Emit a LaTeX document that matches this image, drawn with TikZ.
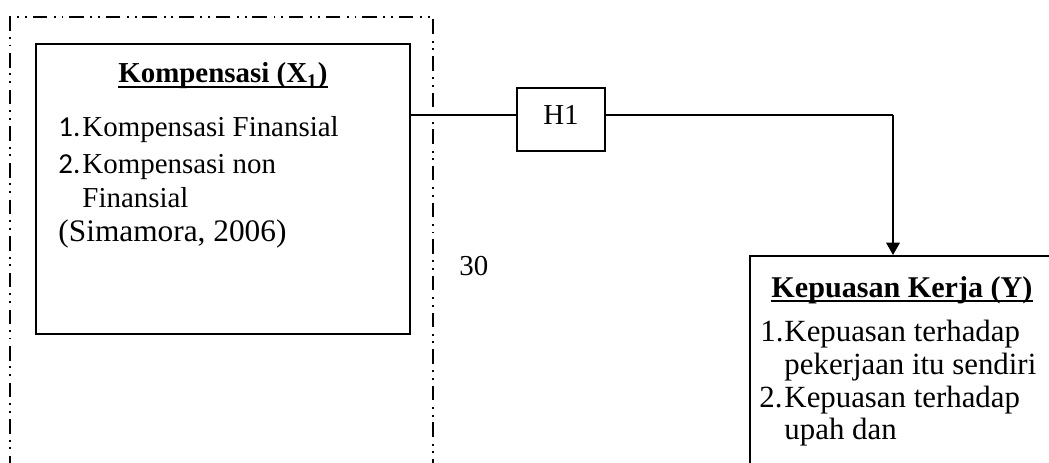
\documentclass[tikz,border=0pt]{standalone}
\usepackage{fontspec}
\setmainfont{Liberation Serif}
\newfontfamily\numfont{Carlito}
\usetikzlibrary{arrows.meta,fit}
% underline drawn just under the baseline, across descenders
\newcommand{\ulbox}[1]{\sbox0{#1}\rlap{\rule[-2pt]{\wd0}{0.8pt}}\usebox0}
\tikzset{
  txt/.style={anchor=base west, inner sep=0pt, font=\fontsize{12}{14}\selectfont},
  ttl/.style={anchor=base, inner sep=0pt, font=\fontsize{12}{14}\selectfont\bfseries},
  ktxt/.style={anchor=base west, inner sep=0pt, font=\fontsize{12.8}{15}\selectfont},
  framebox/.style={draw, line width=0.6pt, inner sep=0pt,
    dash pattern=on 6pt off 2.4pt on 0.8pt off 2.4pt on 0.8pt off 2.8pt},
  varbox/.style={draw, line width=1pt, inner sep=0pt},
  hbox/.style={draw, line width=0.55pt, inner sep=0pt},
  link/.style={line width=0.55pt},
}
\begin{document}
\begin{tikzpicture}[x=0.415pt, y=-0.415pt]
\useasboundingbox (0,0) rectangle (1049,462);
\clip (0,0) rectangle (1049,462);

% outer frame of the independent variable
\node[framebox, fit={(10,17) (433,490)}] (frame) {};

% Kompensasi box
\node[varbox, fit={(36,44) (410,334)}] (komp) {};
\node[ttl] (kompt) at (223,83) {\ulbox{Kompensasi (X\textsubscript{1})}};
\node[txt] (kn1) at (58,137) {\numfont 1.};
\node[txt] (ki1) at (82,137) {Kompensasi Finansial};
\node[txt] (kn2) at (58,173) {\numfont 2.};
\node[txt] (ki2) at (82,173) {Kompensasi non};
\node[txt] (ki2b) at (82,207) {Finansial};
\node[anchor=base west, inner sep=0pt, font=\fontsize{13}{15}\selectfont] (ksrc) at (58,241) {(Simamora, 2006)};

% hypothesis box
\node[hbox, fit={(517,88) (605,151)}] (h1) {};
\node[anchor=base, inner sep=0pt, font=\fontsize{12}{14}\selectfont] (h1t) at (561,125) {H1};

% page number
\node[txt] (pg) at (459,275) {30};

% Kepuasan Kerja box
\node[draw, line width=0.8pt, inner sep=0pt, fit={(750,256) (1070,490)}] (kep) {};
\node[ttl, font=\fontsize{12.5}{15}\selectfont\bfseries] (kept) at (902,297) {\ulbox{Kepuasan Kerja (Y)}};
\node[ktxt] (pn1) at (760,341) {1.};
\node[ktxt] (pi1) at (784,341) {Kepuasan terhadap};
\node[ktxt] (pi1b) at (784,374) {pekerjaan itu sendiri};
\node[ktxt] (pn2) at (759,407) {2.};
\node[ktxt] (pi2) at (784,407) {Kepuasan terhadap};
\node[ktxt] (pi2b) at (784,439) {upah dan};

% connectors
\coordinate (lvl) at (0,115);
\coordinate (ax) at (893,0);
\draw[link] (komp.east |- lvl) -- (h1.west |- lvl);
\draw[link] (h1.east |- lvl) -- (ax |- lvl);
\draw[line width=0.9pt, -{Triangle[length=5.2pt,width=5.6pt]}] (ax |- lvl) -- (kep.north west -| ax);
\end{tikzpicture}
\end{document}
